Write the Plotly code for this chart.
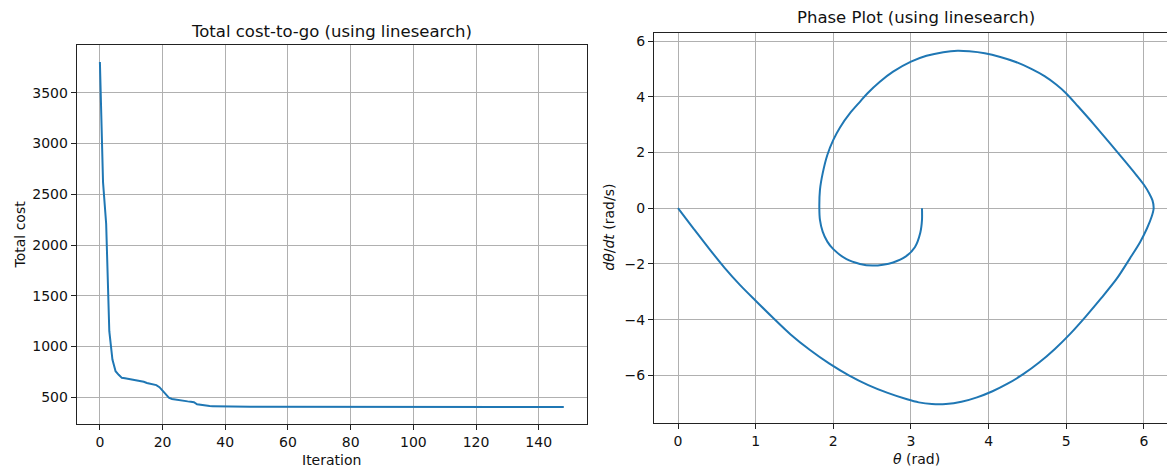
import plotly.graph_objects as go

# ---- data: left panel (total cost per iteration) ----
iterations = list(range(149))
total_cost = [
    3805, 2620, 2210, 1150, 870, 755, 720, 690, 685, 680,
    675, 668, 662, 657, 652, 640, 635, 628, 618, 598,
    565, 525, 495, 482, 476, 472, 468, 463, 458, 455,
    450, 430, 425, 418, 414, 412, 411, 410, 409, 408,
    408, 407.5, 407.3, 407.1, 406.9, 406.7, 406.5, 406.3, 406.1, 406.0,
    405.9, 405.8, 405.7, 405.6, 405.5, 405.4, 405.3, 405.2, 405.1, 405.0,
    404.9, 404.8, 404.7, 404.6, 404.6, 404.5, 404.4, 404.4, 404.3, 404.2,
    404.2, 404.1, 404.0, 404.0, 403.9, 403.9, 403.8, 403.8, 403.7, 403.7,
    403.6, 403.6, 403.5, 403.5, 403.4, 403.4, 403.4, 403.3, 403.3, 403.2,
    403.2, 403.2, 403.1, 403.1, 403.1, 403.0, 403.0, 403.0, 402.9, 402.9,
    402.9, 402.8, 402.8, 402.8, 402.8, 402.7, 402.7, 402.7, 402.7, 402.6,
    402.6, 402.6, 402.6, 402.5, 402.5, 402.5, 402.5, 402.5, 402.4, 402.4,
    402.4, 402.4, 402.4, 402.3, 402.3, 402.3, 402.3, 402.3, 402.3, 402.2,
    402.2, 402.2, 402.2, 402.2, 402.2, 402.1, 402.1, 402.1, 402.1, 402.1,
    402.1, 402.1, 402.0, 402.0, 402.0, 402.0, 402.0, 402.0, 402.0,
]

# ---- data: right panel (phase trajectory) ----
theta = [
    0.0, 0.2, 0.4, 0.6, 0.8, 1.0, 1.2, 1.45, 1.7, 1.95,
    2.2, 2.45, 2.7, 2.95, 3.1, 3.27, 3.45, 3.65, 3.85, 4.05,
    4.25, 4.45, 4.65, 4.85, 5.05, 5.25, 5.45, 5.65, 5.82, 5.95,
    6.04, 6.1, 6.125, 6.11, 6.07, 6.0, 5.9, 5.75, 5.55, 5.35,
    5.15, 5.0, 4.87, 4.72, 4.55, 4.35, 4.15, 3.95, 3.75, 3.6,
    3.416, 3.20, 3.0, 2.77, 2.60, 2.438, 2.343, 2.215, 2.086, 2.0,
    1.923, 1.863, 1.828, 1.82, 1.828, 1.863, 1.923, 2.0, 2.17, 2.343,
    2.506, 2.64, 2.77, 2.93, 3.05, 3.12, 3.142, 3.142,
]
theta_dot = [
    0.0, -0.73, -1.45, -2.14, -2.76, -3.32, -3.87, -4.53, -5.09, -5.58,
    -6.0, -6.35, -6.63, -6.86, -6.97, -7.03, -7.03, -6.95, -6.79, -6.57,
    -6.29, -5.95, -5.54, -5.06, -4.51, -3.89, -3.23, -2.53, -1.80, -1.22,
    -0.72, -0.30, 0.0, 0.28, 0.52, 0.84, 1.20, 1.71, 2.37, 3.03,
    3.66, 4.12, 4.44, 4.74, 5.0, 5.25, 5.43, 5.56, 5.63, 5.65,
    5.60, 5.47, 5.26, 4.90, 4.54, 4.12, 3.82, 3.41, 2.90, 2.45,
    1.91, 1.25, 0.66, 0.0, -0.42, -0.84, -1.20, -1.47, -1.83, -2.0,
    -2.06, -2.03, -1.95, -1.74, -1.40, -0.88, -0.42, 0.0,
]

OFF = 8  # page body margin of the browser
W, H = 1175 - OFF, 467 - OFF
FONT = "DejaVu Sans"
BLUE = "#1f77b4"

fig = go.Figure()
fig.add_trace(go.Scatter(x=iterations, y=total_cost, mode="lines",
                         line=dict(color=BLUE, width=2), xaxis="x", yaxis="y",
                         showlegend=False))
fig.add_trace(go.Scatter(x=theta, y=theta_dot, mode="lines",
                         line=dict(color=BLUE, width=2, shape="spline", smoothing=0.8),
                         xaxis="x2", yaxis="y2", showlegend=False))

def px_x(p):
    return (p - OFF) / W

def px_y(p):
    return 1 - (p - OFF) / H

axis_common = dict(
    showgrid=True, gridcolor="#b0b0b0", gridwidth=1,
    showline=True, linecolor="#222222", linewidth=1, mirror=True,
    ticks="outside", ticklen=5, tickwidth=1, tickcolor="#222222",
    tickfont=dict(family=FONT, size=14, color="#111111"),
    zeroline=False,
)

fig.update_layout(
    width=W, height=H,
    margin=dict(l=0, r=0, t=0, b=0),
    paper_bgcolor="white", plot_bgcolor="white",
    font=dict(family=FONT, color="#111111"),
    xaxis=dict(domain=[px_x(76.7), px_x(587)], range=[-7.4, 155.4],
               tickvals=[0, 20, 40, 60, 80, 100, 120, 140], anchor="y", **axis_common),
    yaxis=dict(domain=[px_y(424.3), px_y(44.7)], range=[232, 3975],
               tickvals=[500, 1000, 1500, 2000, 2500, 3000, 3500], anchor="x", **axis_common),
    xaxis2=dict(domain=[px_x(654), 1.0], range=[-0.309, 6.40],
                tickvals=[0, 1, 2, 3, 4, 5, 6], anchor="y2", **axis_common),
    yaxis2=dict(domain=[px_y(422.7), px_y(32.7)], range=[-7.70, 6.30],
                tickvals=[-6, -4, -2, 0, 2, 4, 6], anchor="x2", **axis_common),
)

def ann(text, x, y, size, angle=0):
    fig.add_annotation(text=text, x=px_x(x), y=px_y(y), xref="paper", yref="paper",
                       xanchor="center", yanchor="middle", showarrow=False,
                       textangle=angle, font=dict(family=FONT, size=size, color="#111111"))

ann("Total cost-to-go (using linesearch)", 331.9, 31, 16.5)
ann("Phase Plot (using linesearch)", 916, 18, 16.5)
ann("Iteration", 331.9, 460, 14)
ann("<i>θ</i> (rad)", 916, 459, 14)
ann("Total cost", 19, 234.5, 14, angle=-90)
ann("<i>dθ</i>/<i>dt</i> (rad/s)", 609, 227.7, 14, angle=-90)

fig.write_html("out.html")
